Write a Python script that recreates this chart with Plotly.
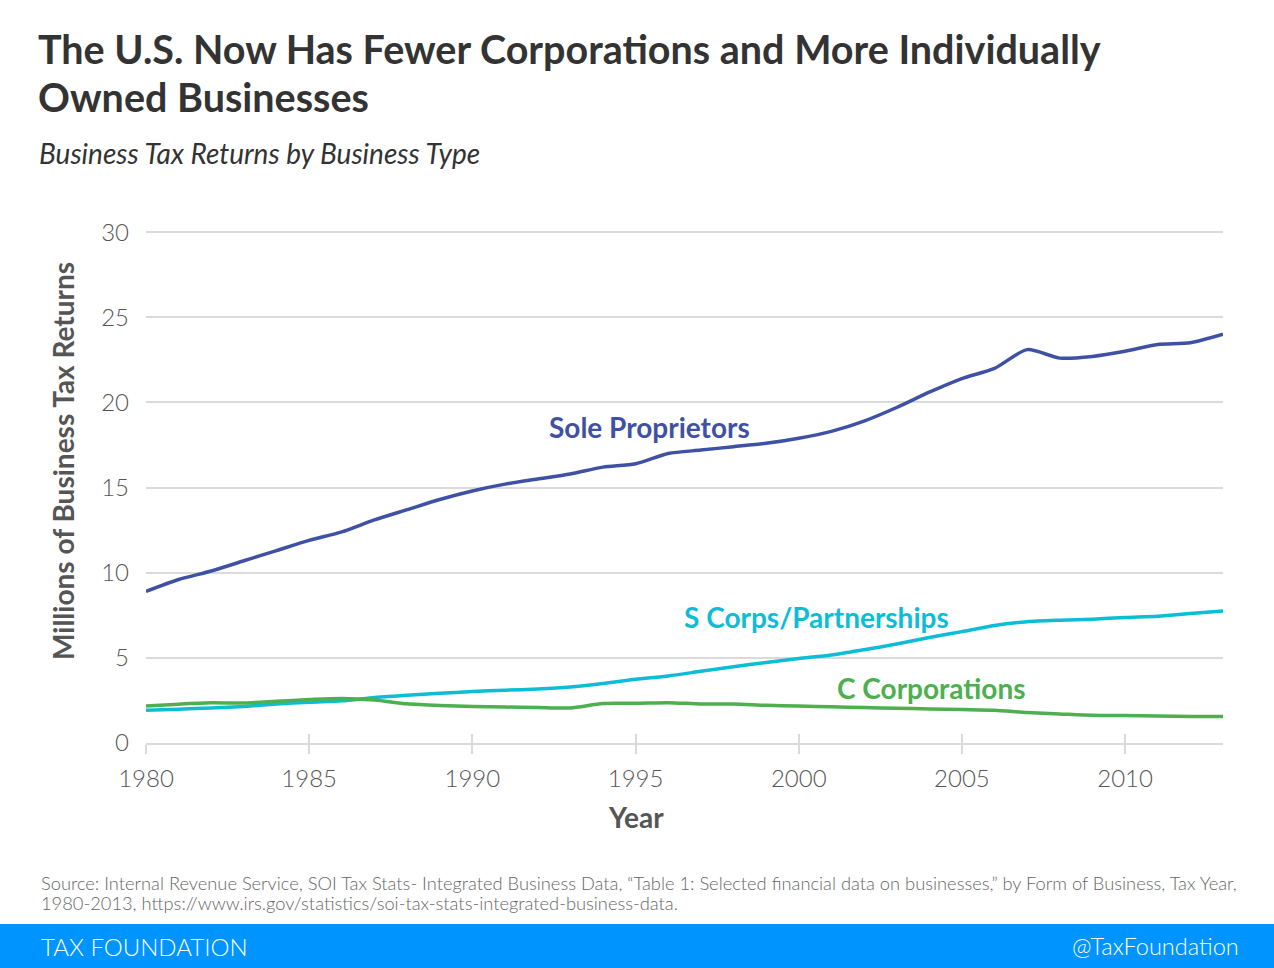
import plotly.graph_objects as go

# Business tax returns, millions
years = list(range(1980, 2014))
sole_props = [8.9, 9.6, 10.1, 10.7, 11.3, 11.9, 12.4, 13.1, 13.7, 14.3,
              14.8, 15.2, 15.5, 15.8, 16.2, 16.4, 17.0, 17.2, 17.4, 17.6,
              17.9, 18.3, 18.9, 19.7, 20.6, 21.4, 22.0, 23.1, 22.6, 22.7,
              23.0, 23.4, 23.5, 24.0]
s_corps = [1.92, 1.98, 2.06, 2.15, 2.29, 2.40, 2.48, 2.67, 2.81, 2.92,
           3.02, 3.10, 3.17, 3.29, 3.50, 3.75, 3.94, 4.21, 4.48, 4.73,
           4.96, 5.17, 5.48, 5.81, 6.19, 6.54, 6.90, 7.12, 7.21, 7.27,
           7.37, 7.45, 7.60, 7.75]
c_corps = [2.17, 2.28, 2.36, 2.35, 2.45, 2.55, 2.62, 2.52, 2.30, 2.20,
           2.14, 2.11, 2.08, 2.06, 2.32, 2.33, 2.37, 2.29, 2.29, 2.21,
           2.17, 2.13, 2.08, 2.04, 2.00, 1.96, 1.92, 1.79, 1.71, 1.63,
           1.61, 1.58, 1.55, 1.55]
x_ticks = [1980, 1985, 1990, 1995, 2000, 2005, 2010]
y_ticks = [0, 5, 10, 15, 20, 25, 30]

W, H = 1274, 968
L, R, T, B = 146, 51, 227, 225
FONT = "Lato"

BLUE = "#3F51A5"
CYAN = "#0DBDD6"
GREEN = "#4DAF50"
GRID = "#DADADA"
TEXT = "#555555"


def px(x, y):
    # pixel position on the page -> paper coords
    return (x - L) / (W - L - R), (H - B - y) / (H - T - B)


fig = go.Figure()
for vals, col in [(sole_props, BLUE), (s_corps, CYAN), (c_corps, GREEN)]:
    fig.add_trace(go.Scatter(x=years, y=vals, mode="lines",
                             line=dict(color=col, width=3.5, shape="spline", smoothing=0.7),
                             hoverinfo="x+y"))
# invisible copy so the overlay axis (inner half of tick marks) gets drawn
fig.add_trace(go.Scatter(x=years, y=sole_props, xaxis="x2", mode="lines",
                         line=dict(width=0), opacity=0, hoverinfo="skip"))

annos = []


def note(text, x, y, size, color, bold=False, italic=False, xanchor="left", angle=0, weight=None):
    xp, yp = px(x, y)
    if bold:
        text = f"<b>{text}</b>"
    if italic:
        text = f"<i>{text}</i>"
    f = dict(family=FONT, size=size, color=color)
    if weight:
        f["weight"] = weight
    annos.append(dict(text=text, x=xp, y=yp, xref="paper", yref="paper",
                      xanchor=xanchor, yanchor="middle", showarrow=False,
                      textangle=angle, font=f))


note("The U.S. Now Has Fewer Corporations and More Individually", 36, 48, 39.5, "#333333", bold=True)
note("Owned Businesses", 36, 96, 39.5, "#333333", bold=True)
note("Business Tax Returns by Business Type", 37, 153, 28, "#333333", italic=True)
note("Millions of Business Tax Returns", 63, 461, 28, TEXT, bold=True, xanchor="center", angle=-90)
note("Year", 636, 817, 28, TEXT, bold=True, xanchor="center")
note("Sole Proprietors", 649, 427, 28, BLUE, bold=True, xanchor="center")
note("S Corps/Partnerships", 816, 617, 28, CYAN, bold=True, xanchor="center")
note("C Corporations", 931, 688, 28, GREEN, bold=True, xanchor="center")
note("Source: Internal Revenue Service, SOI Tax Stats- Integrated Business Data, "
     "\u201cTable 1: Selected financial data on businesses,\u201d by Form of Business, Tax Year,",
     39, 883, 18.3, "#666666", weight=300)
note("1980-2013, https://www.irs.gov/statistics/soi-tax-stats-integrated-business-data.",
     39, 903, 18.3, "#666666", weight=300)
note("TAX FOUNDATION", 39, 946, 24, "white", weight=300)
note("@TaxFoundation", 1241, 946, 23.5, "white", xanchor="right", weight=300)

bx0, by0 = px(-2, 924)
bx1, by1 = px(W + 2, H + 2)

axis_x = dict(range=[1980, 2013], tickvals=x_ticks, tickwidth=2, tickcolor=GRID,
              showgrid=False, zeroline=False, ticklen=9)

fig.update_layout(
    width=W, height=H,
    margin=dict(l=L, r=R, t=T, b=B),
    paper_bgcolor="white", plot_bgcolor="white",
    showlegend=False,
    font=dict(family=FONT, color=TEXT),
    annotations=annos,
    shapes=[dict(type="rect", xref="paper", yref="paper",
                 x0=bx0, x1=bx1, y0=by1, y1=by0,
                 fillcolor="#0094FF", line=dict(width=0), layer="below")],
    xaxis2=dict(axis_x, overlaying="x", side="bottom", ticks="inside",
                showticklabels=False, showline=False),
)
fig.update_layout(xaxis=dict(axis_x, ticks="outside", showline=True, linecolor=GRID,
                             linewidth=2, ticklabelstandoff=4,
                             tickfont=dict(family=FONT, size=24, color=TEXT, weight=300)))
fig.update_yaxes(range=[0, 30.3], tickvals=y_ticks, showgrid=True, gridcolor=GRID,
                 gridwidth=2, zeroline=False, showline=False, ticks="",
                 ticklabelstandoff=16,
                 tickfont=dict(family=FONT, size=24, color=TEXT, weight=300))

fig.write_html("out.html", config={"displayModeBar": False},
               post_script="document.body.style.margin='0';")
